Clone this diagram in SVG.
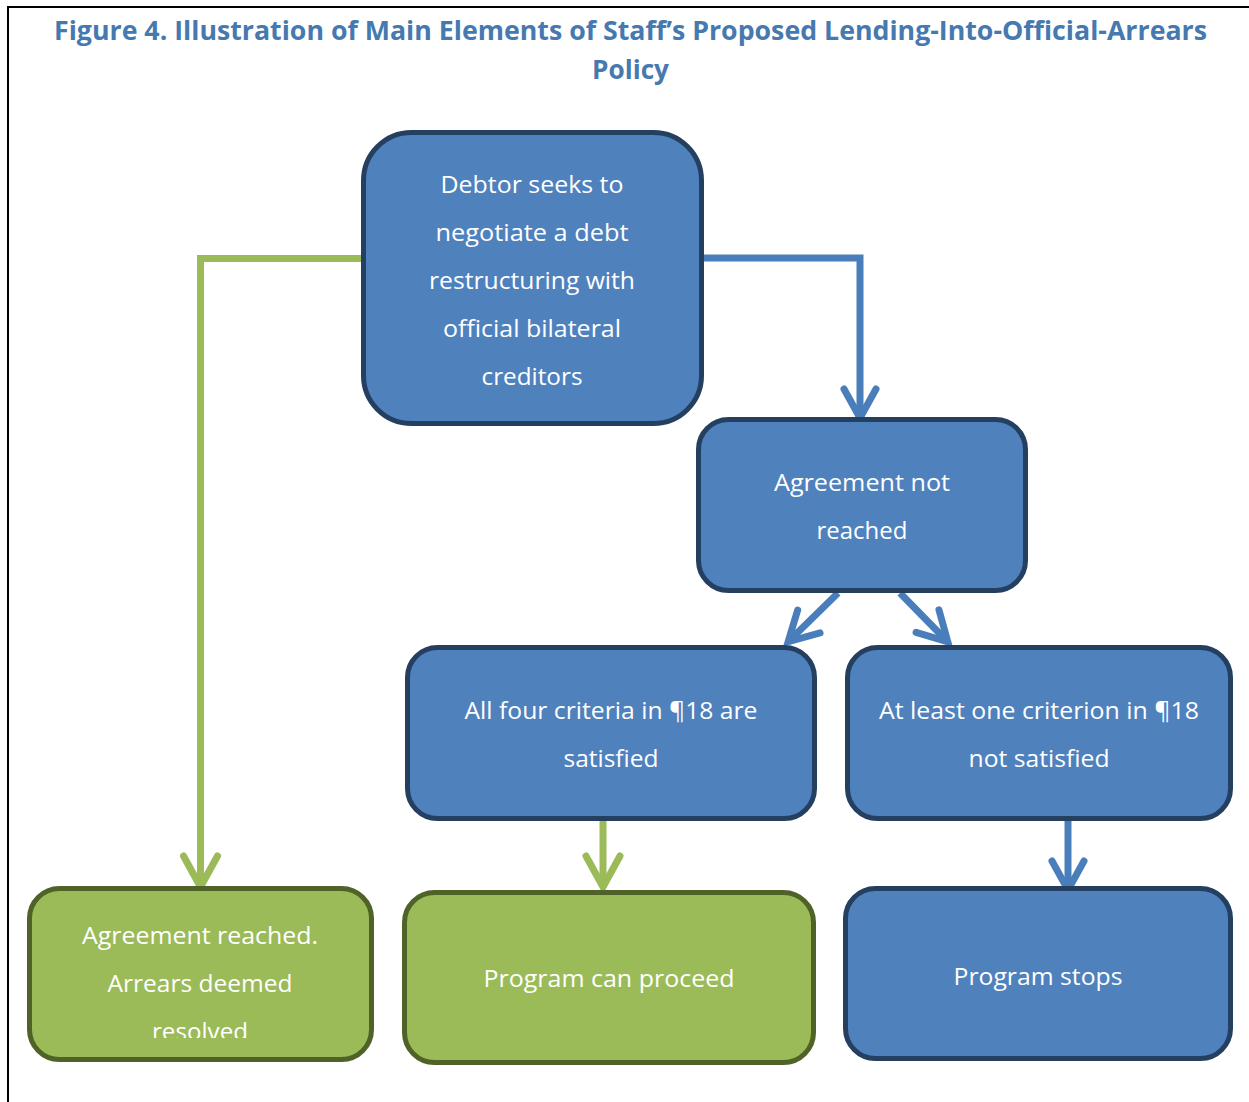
<svg xmlns="http://www.w3.org/2000/svg" width="1249" height="1102" viewBox="0 0 1249 1102">
<style>
.title{font-family:"Open Sans","Noto Sans","Liberation Sans",sans-serif;font-weight:bold;font-size:27px;fill:#4579B0;text-anchor:middle}
.lbl{font-family:"Open Sans","Noto Sans","Liberation Sans",sans-serif;font-size:23px;fill:#ffffff;text-anchor:middle}
.nb{fill:#4F81BD;stroke:#243F60;stroke-width:5}
.ng{fill:#9BBB59;stroke:#4F6228;stroke-width:5}
.cb{fill:none;stroke:#4A7EBB;stroke-width:7}
.cg{fill:none;stroke:#9BBB59;stroke-width:7}
</style>
<defs>
<marker id="ahB" markerUnits="userSpaceOnUse" orient="auto" refX="0" refY="0" markerWidth="10" markerHeight="10" overflow="visible">
<path d="M-25,-16 L4,0 L-25,16" fill="none" stroke="#4A7EBB" stroke-width="7" stroke-linecap="round" stroke-linejoin="miter"/>
</marker>
<marker id="ahG" markerUnits="userSpaceOnUse" orient="auto" refX="0" refY="0" markerWidth="10" markerHeight="10" overflow="visible">
<path d="M-27,-17 L4,0 L-27,17" fill="none" stroke="#9BBB59" stroke-width="7" stroke-linecap="round" stroke-linejoin="miter"/>
</marker>
<clipPath id="clip5"><rect x="29" y="888" width="343" height="150"/></clipPath>
</defs>
<rect x="0" y="0" width="1249" height="1102" fill="#ffffff"/>
<path d="M8,1102 V7 H1249" fill="none" stroke="#000000" stroke-width="2"/>
<g id="title">
<text class="title" x="630.5" y="40" textLength="1153" lengthAdjust="spacingAndGlyphs">Figure 4. Illustration of Main Elements of Staff’s Proposed Lending-Into-Official-Arrears</text>
<text class="title" x="630.5" y="79" textLength="77" lengthAdjust="spacingAndGlyphs">Policy</text>
</g>
<g id="connectors">
<path class="cg" d="M365,258.5 H200.5 V883" marker-end="url(#ahG)"/>
<path class="cb" d="M700,258 H860 V414" marker-end="url(#ahB)"/>
<path class="cb" d="M838,593 L791,639" marker-end="url(#ahB)"/>
<path class="cb" d="M900,593 L945,639" marker-end="url(#ahB)"/>
<path class="cg" d="M603,819 V883" marker-end="url(#ahG)"/>
<path class="cb" d="M1068,819 V886" marker-end="url(#ahB)"/>
</g>
<g id="n1">
<rect class="nb" x="363.5" y="132.5" width="338" height="291" rx="48"/>
<text class="lbl" x="532" y="193" textLength="183" lengthAdjust="spacingAndGlyphs">Debtor seeks to</text>
<text class="lbl" x="532" y="241" textLength="193" lengthAdjust="spacingAndGlyphs">negotiate a debt</text>
<text class="lbl" x="532" y="289" textLength="206" lengthAdjust="spacingAndGlyphs">restructuring with</text>
<text class="lbl" x="532" y="337" textLength="178" lengthAdjust="spacingAndGlyphs">official bilateral</text>
<text class="lbl" x="532" y="385" textLength="101" lengthAdjust="spacingAndGlyphs">creditors</text>
</g>
<g id="n2">
<rect class="nb" x="698.5" y="419.5" width="327" height="171" rx="30"/>
<text class="lbl" x="862" y="491" textLength="176" lengthAdjust="spacingAndGlyphs">Agreement not</text>
<text class="lbl" x="862" y="539" textLength="91" lengthAdjust="spacingAndGlyphs">reached</text>
</g>
<g id="n3">
<rect class="nb" x="407.5" y="647.5" width="407" height="171" rx="30"/>
<text class="lbl" x="611" y="719" textLength="293" lengthAdjust="spacingAndGlyphs">All four criteria in ¶18 are</text>
<text class="lbl" x="611" y="767" textLength="95" lengthAdjust="spacingAndGlyphs">satisfied</text>
</g>
<g id="n4">
<rect class="nb" x="847.5" y="647.5" width="383" height="171" rx="30"/>
<text class="lbl" x="1039" y="719" textLength="320" lengthAdjust="spacingAndGlyphs">At least one criterion in ¶18</text>
<text class="lbl" x="1039" y="767" textLength="141" lengthAdjust="spacingAndGlyphs">not satisfied</text>
</g>
<g id="n5">
<rect class="ng" x="29.5" y="888.5" width="342" height="171" rx="30"/>
<g clip-path="url(#clip5)">
<text class="lbl" x="200" y="944" textLength="236" lengthAdjust="spacingAndGlyphs">Agreement reached.</text>
<text class="lbl" x="200" y="992" textLength="185" lengthAdjust="spacingAndGlyphs">Arrears deemed</text>
<text class="lbl" x="200" y="1040" textLength="96" lengthAdjust="spacingAndGlyphs">resolved</text>
</g>
</g>
<g id="n6">
<rect class="ng" x="404.5" y="892.5" width="409" height="170" rx="30"/>
<text class="lbl" x="609" y="987" textLength="251" lengthAdjust="spacingAndGlyphs">Program can proceed</text>
</g>
<g id="n7">
<rect class="nb" x="845.5" y="888.5" width="385" height="170" rx="30"/>
<text class="lbl" x="1038" y="985" textLength="169" lengthAdjust="spacingAndGlyphs">Program stops</text>
</g>
</svg>
